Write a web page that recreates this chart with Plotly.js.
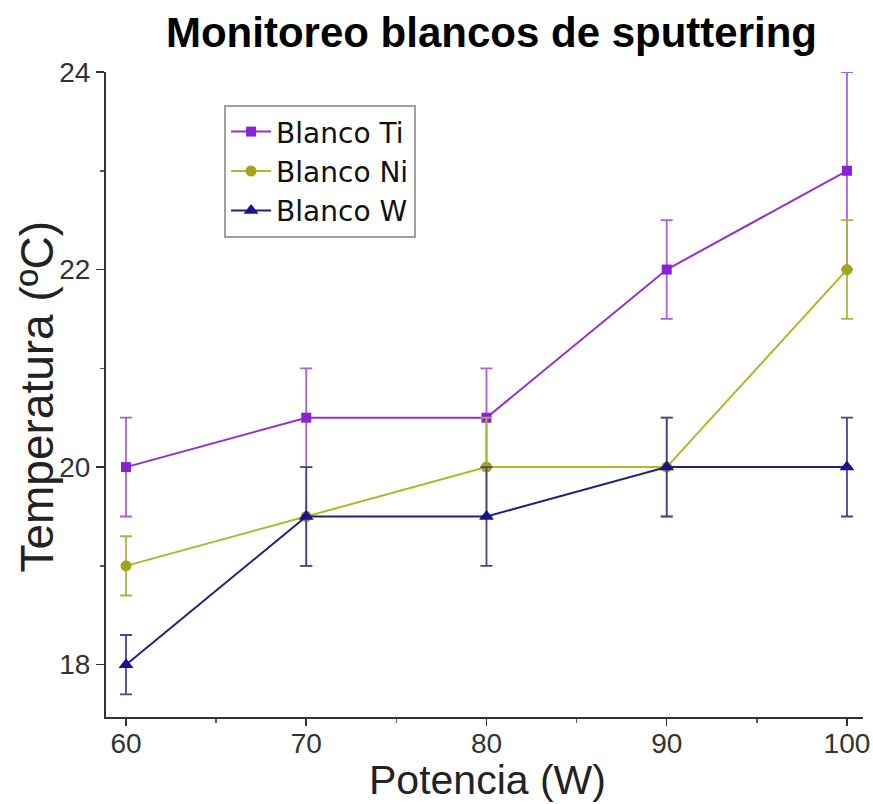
<!DOCTYPE html>
<html>
<head>
<meta charset="utf-8">
<script src="https://cdn.plot.ly/plotly-3.0.1.min.js"></script>
<style>html,body{margin:0;padding:0;background:#fff;}#chart{width:873px;height:804px;}</style>
</head>
<body>
<div id="chart"></div>
<script>
const potencia = [60, 70, 80, 90, 100];
const tempTi = [20, 20.5, 20.5, 22, 23];
const errTi = [0.5, 0.5, 0.5, 0.5, 1];
const tempNi = [19, 19.5, 20, 20, 22];
const errNi = [0.3, 0.5, 0.5, 0.5, 0.5];
const tempW = [18, 19.5, 19.5, 20, 20];
const errW = [0.3, 0.5, 0.5, 0.5, 0.5];
const seriesNames = ['Blanco Ti', 'Blanco Ni', 'Blanco W'];
const xTitle = 'Potencia (W)';
const yTitle = 'Temperatura (ºC)';
const chartTitle = 'Monitoreo blancos de sputtering';

const traces = [
  {x: potencia, y: tempTi, name: seriesNames[0], mode: 'lines+markers',
   line: {color: '#9430d2', width: 2},
   marker: {symbol: 'square', size: 10, color: '#8a22d4'},
   error_y: {type: 'data', array: errTi, visible: true, color: '#a860e0', thickness: 1.8, width: 6}},
  {x: potencia, y: tempNi, name: seriesNames[1], mode: 'lines+markers',
   line: {color: '#b5b526', width: 2},
   marker: {symbol: 'circle', size: 11, color: '#a3a31c'},
   error_y: {type: 'data', array: errNi, visible: true, color: '#b0b04a', thickness: 1.8, width: 6}},
  {x: potencia, y: tempW, name: seriesNames[2], mode: 'lines+markers',
   line: {color: '#22227a', width: 2},
   marker: {symbol: 'triangle-up', size: 13, color: '#1a1290'},
   error_y: {type: 'data', array: errW, visible: true, color: '#45458f', thickness: 1.8, width: 6}}
];

const layout = {
  width: 873, height: 804,
  margin: {l: 106, r: 10, t: 72, b: 87},
  paper_bgcolor: '#ffffff', plot_bgcolor: '#ffffff',
  font: {family: 'Liberation Sans, Arial, sans-serif', color: '#222'},
  title: {text: chartTitle, x: 0.563, xanchor: 'center', y: 0.96, yanchor: 'middle',
          font: {size: 42, color: '#000', weight: 'bold', family: 'Liberation Sans, Arial, sans-serif'}},
  showlegend: true,
  legend: {x: 0.156, y: 0.949, xanchor: 'left', yanchor: 'top',
           bgcolor: '#ffffff', bordercolor: '#a0a0a0', borderwidth: 2,
           font: {size: 28, color: '#111', family: 'DejaVu Sans, sans-serif'},
           itemwidth: 40},
  xaxis: {range: [58.89, 100.89], showgrid: false, zeroline: false,
          showline: true, linecolor: '#333', linewidth: 2,
          ticks: 'outside', ticklen: 7, tickwidth: 1.5, tickcolor: '#333',
          tickmode: 'linear', tick0: 60, dtick: 10, ticklabelstandoff: -7,
          minor: {ticks: 'outside', ticklen: 4, dtick: 5, tick0: 60, tickcolor: '#555', showgrid: false},
          tickfont: {size: 28, color: '#333'}},
  yaxis: {range: [17.47, 24.0], showgrid: false, zeroline: false,
          showline: true, linecolor: '#333', linewidth: 2,
          ticks: 'outside', ticklen: 8, tickwidth: 1.5, tickcolor: '#333',
          tickmode: 'linear', tick0: 18, dtick: 2,
          minor: {ticks: 'outside', ticklen: 4, dtick: 1, tick0: 18, tickcolor: '#555', showgrid: false},
          tickfont: {size: 28, color: '#333'}},
  annotations: [
    {text: xTitle, xref: 'paper', yref: 'paper', x: 0.504, y: -0.097, xanchor: 'center', yanchor: 'middle',
     showarrow: false, font: {size: 41, color: '#222'}},
    {text: yTitle, xref: 'paper', yref: 'paper', x: -0.091, y: 0.497, xanchor: 'center', yanchor: 'middle',
     textangle: -90, showarrow: false, font: {size: 46, color: '#222'}}
  ]
};

Plotly.newPlot('chart', traces, layout, {displayModeBar: false, staticPlot: true});
</script>
</body>
</html>
